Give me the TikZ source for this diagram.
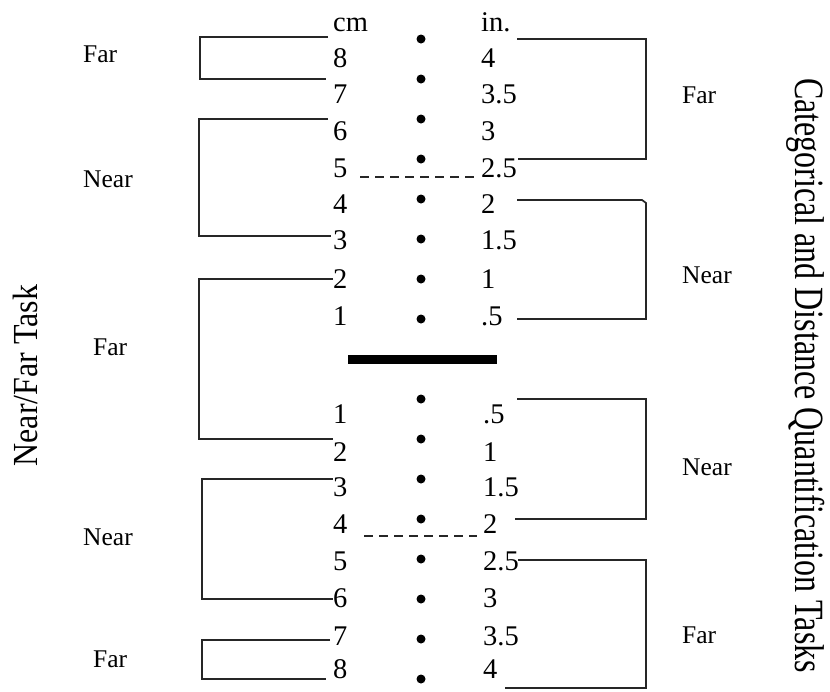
\documentclass[tikz,border=0pt]{standalone}
\usepackage{fontspec}
\setmainfont{Liberation Serif}
\begin{document}
\begin{tikzpicture}[x=1pt,y=-1pt,
  num/.style={anchor=base west,inner sep=0pt,font=\fontsize{28.5}{30}\selectfont},
  lab/.style={anchor=base west,inner sep=0pt,font=\fontsize{25.5}{28}\selectfont},
  ttl/.style={anchor=base,inner sep=0pt,font=\fontsize{32}{34}\selectfont},
  brk/.style={draw=black!85,line width=1.7pt,line join=miter},
  dsh/.style={draw=black!85,line width=1.4pt,dash pattern=on 9pt off 6pt},
  dotm/.style={circle,fill=black,inner sep=0pt,minimum size=9pt}]
\useasboundingbox (0,0) rectangle (830,691);
% columns, upper half
\foreach \t/\u/\b [count=\i] in {cm/in./31,8/4/67.5,7/3.5/103,6/3/140,5/2.5/177,4/2/213,3/1.5/249,2/1/288,1/.5/325}{
  \node[num] (cu\i) at (333,\b) {\t};
  \node[num] (iu\i) at (481,\b) {\u};
}
% columns, lower half
\foreach \t/\u/\b [count=\i] in {1/.5/423,2/1/461.5,3/1.5/496,4/2/533,5/2.5/570,6/3/607.5,7/3.5/645,8/4/678}{
  \node[num] (cl\i) at (333,\b) {\t};
  \node[num] (il\i) at (483,\b) {\u};
}
% dots
\foreach \k in {0,...,7}{
  \node[dotm] (du\k) at (421,39+40*\k) {};
  \node[dotm] (dl\k) at (421,399+40*\k) {};
}
% thick bar
\draw[line width=9pt] (348,359.5) -- (497,359.5);
% dashed lines
\draw[dsh] (360,177) -- (474,177);
\draw[dsh] (364,536) -- (477,536);
% left brackets
\draw[brk] (328,37) -- (200,37) -- (200,79) -- (326,79);
\draw[brk] (328,119) -- (199,119) -- (199,236) -- (331,236);
\draw[brk] (333,279) -- (199,279) -- (199,439) -- (333,439);
\draw[brk] (333,479) -- (202,479) -- (202,599) -- (333,599);
\draw[brk] (330,640) -- (202,640) -- (202,679) -- (326,679);
% right brackets
\draw[brk] (517,39) -- (646,39) -- (646,159) -- (518,159);
\draw[brk] (517,200) -- (642,200) -- (646,203) -- (646,319) -- (517,319);
\draw[brk] (517,399) -- (646,399) -- (646,519) -- (515,519);
\draw[brk] (518,560) -- (646,560) -- (646,688) -- (505,688);
% left labels
\node[lab] (lf1) at (83,62) {Far};
\node[lab] (ln1) at (83,187) {Near};
\node[lab] (lf2) at (93,355) {Far};
\node[lab] (ln2) at (83,545) {Near};
\node[lab] (lf3) at (93,667) {Far};
% right labels
\node[lab] (rf1) at (682,103) {Far};
\node[lab] (rn1) at (682,283) {Near};
\node[lab] (rn2) at (682,475) {Near};
\node[lab] (rf2) at (682,643) {Far};
% titles
\node[ttl,rotate=90,yscale=1.1] (tl) at (37,375.5) {Near/Far Task};
\node[ttl,rotate=-90,yscale=1.3] (tr) at (795,375.5) {Categorical and Distance Quantification Tasks};
\end{tikzpicture}
\end{document}
